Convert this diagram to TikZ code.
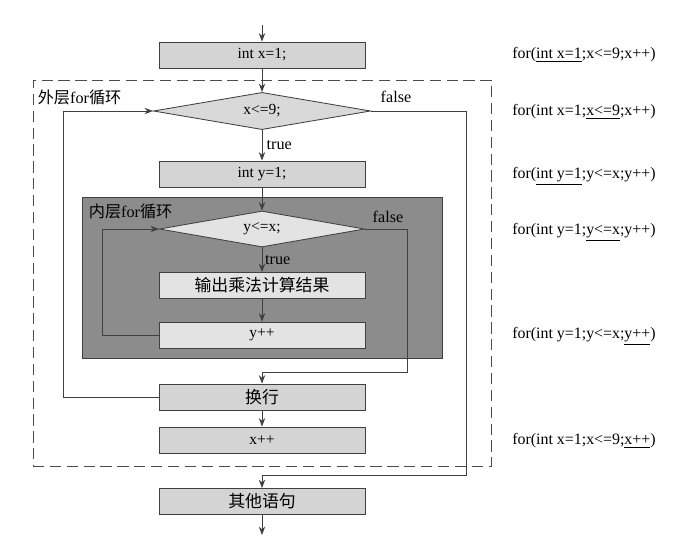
\documentclass[tikz,border=0pt]{standalone}
\usepackage{fontspec}
\setmainfont{Liberation Serif}
\newfontfamily\cjk{Noto Sans CJK SC}
\usepackage{xcolor}
\usetikzlibrary{arrows.meta, positioning, shapes.geometric}

\begin{document}
\begin{tikzpicture}[
  x=0.025cm, y=-0.025cm,
  box/.style={draw=black!75, fill=black!17, minimum width=5.15cm, minimum height=0.65cm,
    inner sep=0pt, font=\fontsize{11}{13}\selectfont},
  inbox/.style={box, fill=black!11},
  cond/.style={draw=black!75, diamond, aspect=6, fill=black!15, minimum width=5.43cm,
    minimum height=0.93cm, inner sep=0pt, font=\fontsize{11}{13}\selectfont},
  lbl/.style={inner sep=1pt, font=\fontsize{11.5}{13}\selectfont},
  code/.style={anchor=west, inner sep=0pt, font=\fontsize{11.3}{13}\selectfont},
  ->, >={Stealth[length=6pt, width=4.5pt]}, line width=0.6pt, draw=black!75
]
\useasboundingbox (0,0) rectangle (700,548);

% loop frames
\node[draw=black!70, dash pattern=on 8pt off 4pt, minimum width=11.45cm, minimum height=9.65cm] (outer) at (262,273) {};
\node[draw=black!75, fill=black!45, minimum width=9cm, minimum height=4.025cm] (inner) at (262,277.5) {};
\node[lbl, anchor=west] (outerlbl) at (36,97) {{\cjk 外层}for{\cjk 循环}};
\node[lbl, anchor=west] (innerlbl) at (87,211) {{\cjk 内层}for{\cjk 循环}};

% flow
\coordinate (start) at (262,25);
\node[box] (initx) at (262,55) {int x=1;};
\node[cond] (condx) at (262,111) {x<=9;};
\node[box] (inity) at (262,174) {int y=1;};
\node[cond, fill=black!11, minimum width=5.13cm, minimum height=0.9cm] (condy) at (262,229) {y<=x;};
\node[inbox] (result) at (262,285.5) {\cjk\fontsize{12}{14}\selectfont 输出乘法计算结果};
\node[inbox] (incy) at (262,335) {y++};
\node[box] (newline) at (262,397) {\cjk\fontsize{12}{14}\selectfont 换行};
\node[box] (incx) at (262,440) {x++};
\node[box] (other) at (262,501.5) {\cjk\fontsize{12}{14}\selectfont 其他语句};
\coordinate (end) at (262,535);
\coordinate (innerexit) at (407,372);
\coordinate (outerexit) at (466,475);

\node[lbl] (false1) at (396,97) {false};
\node[lbl] (false2) at (388,217) {false};

\draw (start) -- (initx);
\draw (initx) -- (condx);
\draw (condx) -- node[lbl, right=2pt] {true} (inity);
\draw (inity) -- (condy);
\draw (condy) -- node[lbl, right=1pt] {true} (result);
\draw (result) -- (incy);
\draw (incy.west) -- ++(-56,0) |- (condy.west);
\draw (condy.east) -| (innerexit) -| (newline.north);
\draw (newline.west) -- ++(-95,0) |- (condx.west);
\draw (newline) -- (incx);
\draw (condx.east) -| (outerexit) -| (other.north);
\draw (other) -- (end);

% for statements
\node[code] (s1) at (512,55) {for(\underline{int x=1};x<=9;x++)};
\node[code] (s2) at (512,112) {for(int x=1;\underline{x<=9};x++)};
\node[code] (s3) at (512,176) {for(\underline{int y=1};y<=x;y++)};
\node[code] (s4) at (512,232) {for(int y=1;\underline{y<=x};y++)};
\node[code] (s5) at (512,336) {for(int y=1;y<=x;\underline{y++})};
\node[code] (s6) at (512,441) {for(int x=1;x<=9;\underline{x++})};
\end{tikzpicture}
\end{document}
